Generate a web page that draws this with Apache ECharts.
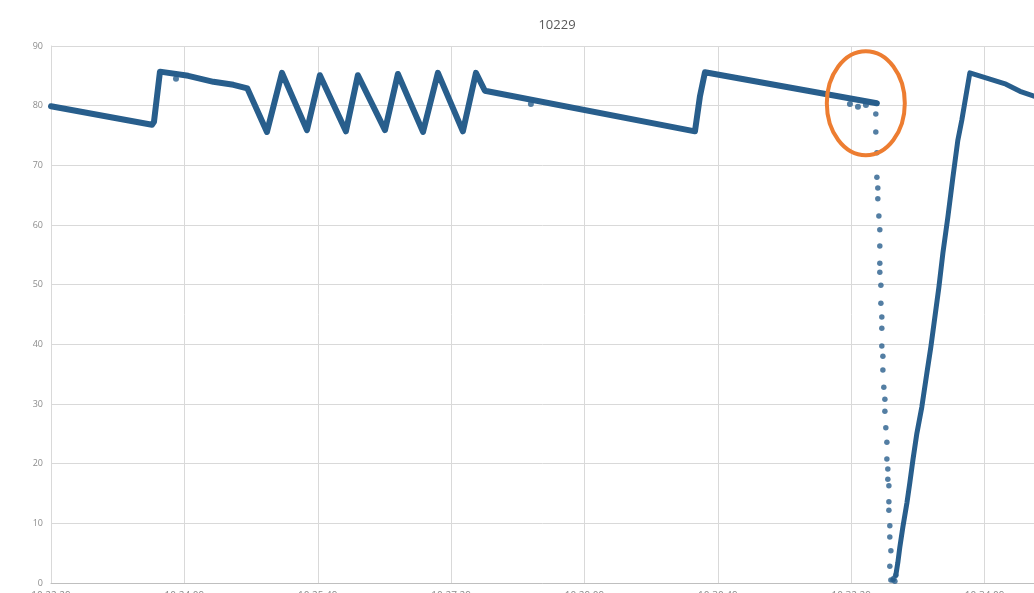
<!DOCTYPE html>
<html>
<head>
<meta charset="utf-8">
<title>10229</title>
<script src="https://cdn.jsdelivr.net/npm/echarts@6/dist/echarts.min.js"></script>
<style>
  html, body { margin: 0; padding: 0; background: #ffffff; }
  #chart { width: 1034px; height: 593px; }
</style>
</head>
<body>
<div id="chart"></div>
<script>
// Sample index (x) and reading (y) for the logged channel 10229.
const titleText = '10229';

// Dense part of the log before the dropout: [sample, value]
const traceBefore = [
  [0, 79.9], [75.7, 76.8], [77.2, 77.3], [81.7, 85.7], [102.9, 85.0],
  [121.8, 84.0], [136.8, 83.5], [147.2, 82.9], [161.9, 75.6], [173.2, 85.5],
  [191.9, 75.9], [201.6, 85.1], [221.1, 75.7], [230.1, 85.1], [250.4, 75.9],
  [260.1, 85.3], [278.9, 75.6], [290.1, 85.5], [308.8, 75.7], [318.6, 85.5],
  [325.3, 82.5], [482.8, 75.7], [486.5, 81.5], [490.3, 85.6], [619.2, 80.4]
];

// Sparse readings during the dropout
const dropout = [
  [618.4, 78.6], [618.4, 75.6], [619.2, 72.1], [619.2, 68.0], [619.9, 66.2],
  [619.9, 64.4], [620.7, 61.5], [621.4, 59.2], [621.4, 56.5], [621.4, 53.6],
  [621.4, 52.1], [622.2, 49.9], [622.2, 46.9], [622.9, 44.6], [622.9, 42.7],
  [622.9, 39.7], [623.7, 38.0], [623.7, 35.7], [624.4, 32.8], [625.2, 30.8],
  [625.2, 28.8], [625.9, 26.0], [626.7, 23.6], [626.7, 20.8], [627.4, 19.1],
  [627.4, 17.4], [628.2, 16.3], [628.2, 13.6], [628.2, 12.2], [628.9, 9.6],
  [628.9, 7.7], [629.7, 5.4], [628.9, 2.8], [629.7, 0.5], [631.2, 0.5],
  [631.9, 0.8], [632.7, 0.3], [633.4, 1.3]
];

// Recovery ramp and the readings after it
const traceAfter = [
  [633.4, 1.3], [634.9, 3.4], [636.4, 6.0], [638.7, 9.4], [641.7, 13.4],
  [643.9, 16.8], [646.2, 20.6], [649.2, 25.1], [652.9, 29.5], [656.7, 35.2],
  [659.7, 39.6], [662.7, 44.6], [665.7, 49.6], [668.7, 55.3], [672.4, 61.3],
  [676.2, 68.0], [679.9, 74.2], [682.9, 77.6], [688.9, 85.5], [716.0, 83.6],
  [726.5, 82.4], [737, 81.6]
];

// Stray readings
const strays = [
  [93.7, 84.5], [359.8, 80.3], [599.0, 80.3], [605.0, 79.8], [611.0, 80.1]
];

// Axis ticks
const yTicks = { min: 0, max: 90, step: 10 };
const xTicks = { min: 0, max: 737, step: 100 };
const xTickLabels = ['10:22:29', '10:24:09', '10:25:49', '10:27:29', '10:29:09', '10:30:49', '10:32:29', '10:34:09'];

// Highlight ring around the start of the dropout, in data units
const ringCenter = [610.9, 80.4];

const blue = '#285e8c';
const chart = echarts.init(document.getElementById('chart'), null, { renderer: 'canvas' });

const lineStyle = { color: blue, width: 6, cap: 'round', join: 'round' };

chart.setOption({
  animation: false,
  backgroundColor: '#ffffff',
  title: {
    text: titleText,
    left: 552,
    top: 14,
    textAlign: 'center',
    textStyle: { color: '#595959', fontSize: 13, fontWeight: 'normal', fontFamily: 'Open Sans' }
  },
  grid: { left: 51, right: 0, top: 46, bottom: 10, containLabel: false, outerBoundsMode: 'none' },
  xAxis: {
    type: 'value',
    min: xTicks.min,
    max: xTicks.max,
    interval: xTicks.step,
    axisLine: { show: true, lineStyle: { color: '#bfbfbf', width: 1 } },
    axisTick: { show: false },
    axisLabel: {
      show: true,
      margin: 8,
      showMaxLabel: false,
      color: '#8c8c8c',
      fontSize: 10,
      fontFamily: 'Open Sans',
      formatter: v => xTickLabels[Math.round(v / xTicks.step)] || ''
    },
    splitLine: { show: true, showMaxLine: false, lineStyle: { color: '#d9d9d9', width: 1 } }
  },
  yAxis: {
    type: 'value',
    min: yTicks.min,
    max: yTicks.max,
    interval: yTicks.step,
    axisLine: { show: true, lineStyle: { color: '#d9d9d9', width: 1 } },
    axisTick: { show: false },
    axisLabel: { color: '#8c8c8c', fontSize: 9, margin: 8, fontFamily: 'Open Sans' },
    splitLine: { show: true, lineStyle: { color: '#d9d9d9', width: 1 } }
  },
  series: [
    { type: 'line', data: traceBefore, symbol: 'none', lineStyle, z: 3 },
    { type: 'line', data: traceAfter, symbol: 'none', lineStyle: Object.assign({}, lineStyle, { width: 5 }), z: 3 },
    { type: 'scatter', data: dropout, symbolSize: 5.5, itemStyle: { color: blue }, z: 3 },
    { type: 'scatter', data: strays, symbolSize: 6, itemStyle: { color: blue }, z: 3 }
  ]
});

// Orange ring placed from the data coordinate of its centre
const c = chart.convertToPixel({ gridIndex: 0 }, ringCenter);
chart.setOption({
  graphic: [{
    type: 'ellipse',
    shape: { cx: c[0], cy: c[1], rx: 39, ry: 52 },
    style: { fill: 'none', stroke: '#ed7d31', lineWidth: 4 },
    z: 100
  }]
});
</script>
</body>
</html>
